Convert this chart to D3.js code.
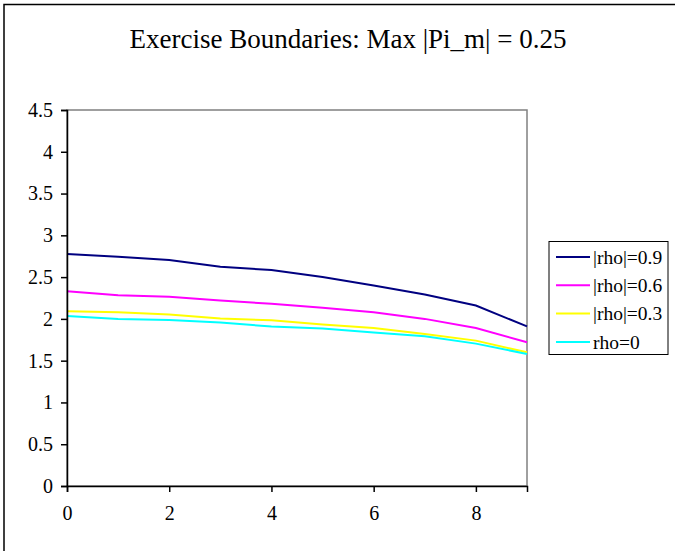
<!DOCTYPE html>
<html><head><meta charset="utf-8">
<script src="https://cdn.jsdelivr.net/npm/d3@7"></script>
<style>html,body{margin:0;padding:0;background:#fff;overflow:hidden;}svg{display:block;font-family:"Liberation Serif","Times New Roman",serif;}</style>
</head><body>
<svg id="chart" width="675" height="551"></svg>
<script>
const titleText = "Exercise Boundaries: Max |Pi_m| = 0.25";
const xValues = [0,1,2,3,4,5,6,7,8,9];
const seriesNames = ["|rho|=0.9","|rho|=0.6","|rho|=0.3","rho=0"];
const seriesColors = ["#000080","#FF00FF","#FFFF00","#00FFFF"];
const rho09 = [2.776,2.744,2.704,2.624,2.584,2.50,2.40,2.292,2.16,1.91];
const rho06 = [2.332,2.284,2.264,2.22,2.18,2.132,2.08,2.0,1.892,1.72];
const rho03 = [2.092,2.08,2.052,2.004,1.984,1.932,1.892,1.82,1.74,1.60];
const rho00 = [2.036,2.0,1.988,1.956,1.908,1.884,1.836,1.792,1.704,1.58];
const yTicks = [0,0.5,1,1.5,2,2.5,3,3.5,4,4.5];
const xTicks = [0,2,4,6,8];

const seriesData = [rho09,rho06,rho03,rho00];
const svg = d3.select("#chart");
const L = 67, R = 527, T = 110, B = 486;
const x = d3.scaleLinear().domain([0,9]).range([L,R]);
const y = d3.scaleLinear().domain([0,4.5]).range([B,T]);

// outer frame: only left and top edges fall inside the picture
svg.append("path").attr("d","M4,551 L4,4.5 L675,4.5")
  .attr("fill","none").attr("stroke","#000").attr("stroke-width",1.5);

svg.append("text").attr("x",348).attr("y",48).attr("text-anchor","middle")
  .attr("font-size",27).attr("fill","#000").text(titleText);

// plot border
svg.append("rect").attr("x",L).attr("y",T).attr("width",R-L).attr("height",B-T)
  .attr("fill","none").attr("stroke","#808080").attr("stroke-width",1.5);

const line = d3.line().x((d,i)=>x(xValues[i])).y(d=>y(d));
seriesData.forEach((s,k)=>{
  svg.append("path").datum(s).attr("d",line).attr("fill","none")
    .attr("stroke",seriesColors[k]).attr("stroke-width",2);
});

const yAxis = svg.append("g").attr("transform",`translate(${L},0)`)
  .call(d3.axisLeft(y).tickValues(yTicks).tickFormat(d=>String(d)).tickSize(6).tickPadding(8));
const xAxis = svg.append("g").attr("transform",`translate(0,${B})`)
  .call(d3.axisBottom(x).tickValues(xTicks).tickFormat(d=>String(d)).tickSize(6).tickPadding(14));
[yAxis,xAxis].forEach(a=>{
  a.select(".domain").attr("stroke","#000").attr("stroke-width",1.5);
  a.selectAll(".tick line").attr("stroke","#000").attr("stroke-width",1.5);
  a.selectAll(".tick text").attr("font-size",20).attr("fill","#000")
    .attr("font-family","'Liberation Serif','Times New Roman',serif");
});

// legend
const lg = svg.append("g");
lg.append("rect").attr("x",549).attr("y",241.5).attr("width",119).attr("height",113)
  .attr("fill","#fff").attr("stroke","#000").attr("stroke-width",1);
seriesNames.forEach((n,k)=>{
  const cy = 257 + k*28.3;
  lg.append("line").attr("x1",556).attr("x2",590).attr("y1",cy).attr("y2",cy)
    .attr("stroke",seriesColors[k]).attr("stroke-width",2);
  lg.append("text").attr("x",593).attr("y",cy).attr("dy","0.35em")
    .attr("font-size",19.5).attr("fill","#000").text(n);
});
</script>
</body></html>
